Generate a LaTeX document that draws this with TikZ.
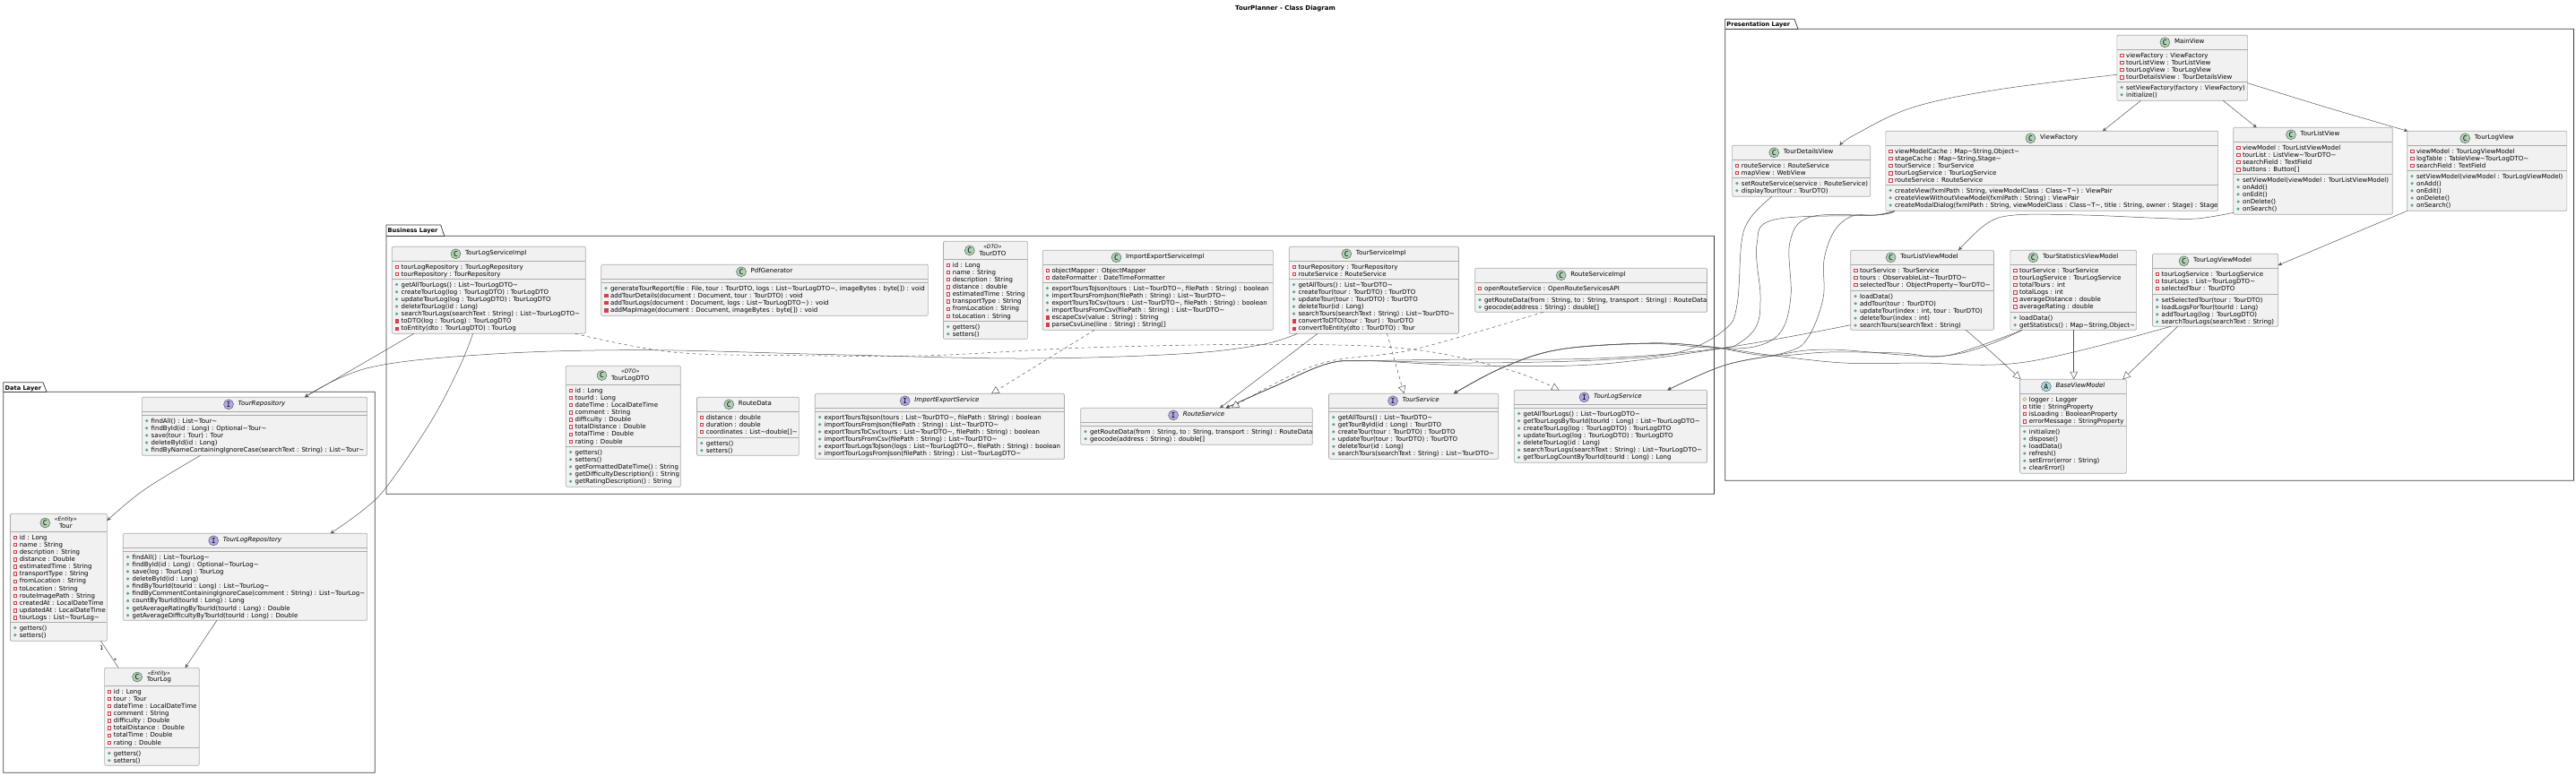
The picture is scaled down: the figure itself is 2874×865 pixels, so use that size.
\documentclass[tikz,border=0pt]{standalone}
\usepackage{fontspec}
\setmainfont{DejaVu Sans}
\newfontfamily\spotfont{DejaVu Sans Mono}
\usetikzlibrary{arrows.meta}
\AtBeginDocument{\catcode`\~=12 }
\definecolor{boxfill}{HTML}{F1F1F1}
\definecolor{boxline}{HTML}{ABABAB}
\definecolor{linkc}{HTML}{555555}
\definecolor{pkgc}{HTML}{3C3C3C}
\definecolor{privc}{HTML}{D0404E}
\definecolor{pubc}{HTML}{5CA880}
\definecolor{protc}{HTML}{B38D22}
\definecolor{spotC}{HTML}{ADD1B2}
\definecolor{spotI}{HTML}{B4A7E5}
\definecolor{spotA}{HTML}{A9DCDF}
\newcount\memN
\newcommand\memfont{\fontsize{7}{8.15}\selectfont}
\tikzset{
  umlbox/.style={draw=boxline,fill=boxfill,line width=.65pt,rounded corners=1.25pt,inner sep=0pt,outer sep=0pt,anchor=north west},
  member/.style={inner sep=0pt,outer sep=0pt,anchor=base west,font=\memfont},
  spotnode/.style={circle,draw=black!75,line width=.35pt,minimum size=11pt,inner sep=0pt,anchor=east,font=\spotfont\fontsize{8}{8}\selectfont},
  sepline/.style={draw=boxline,line width=.65pt},
  pkgline/.style={draw=pkgc,line width=.75pt,line join=round},
  pkgname/.style={inner sep=0pt,anchor=base west,font=\bfseries\fontsize{6.6}{8}\selectfont},
  conn/.style={draw=linkc,line width=.5pt,-{Stealth[length=4.5pt,width=4.2pt,inset=1.6pt]}},
  impl/.style={draw=linkc,line width=.5pt,dash pattern=on 3.5pt off 3.5pt,-{Triangle[open,length=8.5pt,width=8.5pt,fill=white,sep=0pt]}},
  ext/.style={draw=linkc,line width=.5pt,-{Triangle[open,length=8.5pt,width=8.5pt,fill=white]}},
  cardin/.style={inner sep=0pt,font=\fontsize{6.5}{7}\selectfont},
}
\newcommand\umlclass[7]{%
  \pgfmathsetmacro\bxa{#2}\pgfmathsetmacro\bya{#3}\pgfmathsetmacro\bxb{#4}\pgfmathsetmacro\byb{#5}%
  \pgfmathsetmacro\sepa{#6}\pgfmathsetmacro\sepb{#7}%
  \pgfmathsetmacro\bw{#4-#2}\pgfmathsetmacro\bh{#5-#3}%
  \def\curid{#1}%
  \node[umlbox,minimum width=\bw pt,minimum height=\bh pt] (#1) at (\bxa,\bya) {};%
  \draw[sepline] (#1.west |- 0,\sepa) -- (#1.east |- 0,\sepa);%
  \draw[sepline] (#1.west |- 0,\sepb) -- (#1.east |- 0,\sepb);%
  \pgfmathsetmacro\icx{\bxa+5.3}\pgfmathsetmacro\txx{\bxa+10.3}%
}
\newcommand\umlhead[3][]{%
  \def\stereoarg{#1}%
  \def\kindarg{#2}\def\kindC{C}%
  \ifx\kindarg\kindC\def\namef{\memfont}\else\def\namef{\memfont\itshape}\fi
  \pgfmathsetmacro\colc{(\bxa+\bxb)/2+8}\pgfmathsetmacro\cyy{(\bya+\sepa)/2}%
  \ifx\stereoarg\empty
    \node[inner sep=0pt,outer sep=0pt,font=\namef] (\curid-name) at (\colc,\cyy) {\strut #3};%
  \else
    \node[inner sep=0pt,outer sep=0pt,align=center,font=\memfont] (\curid-name) at (\colc,\cyy+.2) {{\fontsize{6}{7}\selectfont\itshape «#1»}\\[-.6pt]#3};%
  \fi
  \node[spotnode,fill=spot#2] (\curid-spot) at ([xshift=-5pt]\curid-name.west) {#2};%
}
\newcommand\rowsfrom[1]{\pgfmathsetmacro\rowc{#1+2.2+4.075}}
\newcommand\rowtext[1]{%
  \global\advance\memN by 1
  \node[member] (m\the\memN) at (\txx,\rowc+2.5) {#1};%
  \pgfmathsetmacro\rowc{\rowc+8.15}%
}
\newcommand\fpriv[1]{\draw[draw=privc,line width=.45pt] (\icx-1.7,\rowc-1.7) rectangle (\icx+1.7,\rowc+1.7);\rowtext{#1}}
\newcommand\mpriv[1]{\draw[draw=privc,fill=privc,line width=.4pt] (\icx-1.7,\rowc-1.7) rectangle (\icx+1.7,\rowc+1.7);\rowtext{#1}}
\newcommand\mpub[1]{\fill[pubc] (\icx,\rowc) circle[radius=1.75];\rowtext{#1}}
\newcommand\fprot[1]{\draw[draw=protc,line width=.45pt] (\icx-2,\rowc) -- (\icx,\rowc-2) -- (\icx+2,\rowc) -- (\icx,\rowc+2) -- cycle;\rowtext{#1}}
\newcommand\umlpackage[8]{% id x0 ytab xa xb ybody x1 y1
  \draw[pkgline] (#2,#6) -- (#2,#3) -- (#4,#3) -- (#5,#6) -- (#7,#6) -- (#7,#8) -- (#2,#8) -- cycle;
  \draw[pkgline] (#2,#6) -- (#5,#6);
}
\begin{document}
\begin{tikzpicture}[x=1pt,y=-1pt]
\useasboundingbox (0,0) rectangle (2874,865);
\node[inner sep=0pt,font=\bfseries\fontsize{7}{8}\selectfont] (title) at (1434,9.3) {TourPlanner - Class Diagram};
% packages
\umlpackage{data}{3.7}{426.7}{48}{52}{437.3}{418.3}{862.3}
\node[pkgname] (pkgData) at (5.5,435) {Data Layer};
\umlpackage{biz}{431}{251}{491.7}{495.7}{263.3}{1912.5}{551.3}
\node[pkgname] (pkgBiz) at (432.5,259.5) {Business Layer};
\umlpackage{pres}{1924.6}{21.3}{2002}{2006}{32.3}{2871.4}{536.3}
\node[pkgname] (pkgPres) at (1926.2,29.5) {Presentation Layer};

% Business layer
\umlclass{tlsi}{437.3}{275.3}{653.3}{372.3}{291.3}{311.3}\umlhead{C}{TourLogServiceImpl}
\rowsfrom{291.3}
\fpriv{tourLogRepository : TourLogRepository}
\fpriv{tourRepository : TourRepository}
\rowsfrom{311.3}
\mpub{getAllTourLogs() : List~TourLogDTO~}
\mpub{createTourLog(log : TourLogDTO) : TourLogDTO}
\mpub{updateTourLog(log : TourLogDTO) : TourLogDTO}
\mpub{deleteTourLog(id : Long)}
\mpub{searchTourLogs(searchText : String) : List~TourLogDTO~}
\mpriv{toDTO(log : TourLog) : TourLogDTO}
\mpriv{toEntity(dto : TourLogDTO) : TourLog}

\umlclass{pdf}{670.7}{295.3}{1035.4}{352.3}{311.3}{315.3}\umlhead{C}{PdfGenerator}
\rowsfrom{315.3}
\mpub{generateTourReport(file : File, tour : TourDTO, logs : List~TourLogDTO~, imageBytes : byte[]) : void}
\mpriv{addTourDetails(document : Document, tour : TourDTO) : void}
\mpriv{addTourLogs(document : Document, logs : List~TourLogDTO~) : void}
\mpriv{addMapImage(document : Document, imageBytes : byte[]) : void}

\umlclass{tdto}{1052.5}{269.3}{1146.4}{378.3}{289.3}{358.3}\umlhead[DTO]{C}{TourDTO}
\rowsfrom{289.3}
\fpriv{id : Long}
\fpriv{name : String}
\fpriv{description : String}
\fpriv{distance : double}
\fpriv{estimatedTime : String}
\fpriv{transportType : String}
\fpriv{fromLocation : String}
\fpriv{toLocation : String}
\rowsfrom{358.3}
\mpub{getters()}
\mpub{setters()}

\umlclass{iesi}{1163.2}{279.3}{1420.4}{368.3}{295.3}{315.3}\umlhead{C}{ImportExportServiceImpl}
\rowsfrom{295.3}
\fpriv{objectMapper : ObjectMapper}
\fpriv{dateFormatter : DateTimeFormatter}
\rowsfrom{315.3}
\mpub{exportToursToJson(tours : List~TourDTO~, filePath : String) : boolean}
\mpub{importToursFromJson(filePath : String) : List~TourDTO~}
\mpub{exportToursToCsv(tours : List~TourDTO~, filePath : String) : boolean}
\mpub{importToursFromCsv(filePath : String) : List~TourDTO~}
\mpriv{escapeCsv(value : String) : String}
\mpriv{parseCsvLine(line : String) : String[]}

\umlclass{tsi}{1438.2}{275.3}{1627.5}{372.3}{291.3}{311.3}\umlhead{C}{TourServiceImpl}
\rowsfrom{291.3}
\fpriv{tourRepository : TourRepository}
\fpriv{routeService : RouteService}
\rowsfrom{311.3}
\mpub{getAllTours() : List~TourDTO~}
\mpub{createTour(tour : TourDTO) : TourDTO}
\mpub{updateTour(tour : TourDTO) : TourDTO}
\mpub{deleteTour(id : Long)}
\mpub{searchTours(searchText : String) : List~TourDTO~}
\mpriv{convertToDTO(tour : Tour) : TourDTO}
\mpriv{convertToEntity(dto : TourDTO) : Tour}

\umlclass{rsi}{1645.7}{299.3}{1904.5}{348.3}{315.3}{328.3}\umlhead{C}{RouteServiceImpl}
\rowsfrom{315.3}
\fpriv{openRouteService : OpenRouteServicesAPI}
\rowsfrom{328.3}
\mpub{getRouteData(from : String, to : String, transport : String) : RouteData}
\mpub{geocode(address : String) : double[]}

\umlclass{tldto}{631.3}{408.3}{759.3}{543.3}{429.3}{498.3}\umlhead[DTO]{C}{TourLogDTO}
\rowsfrom{429.3}
\fpriv{id : Long}
\fpriv{tourId : Long}
\fpriv{dateTime : LocalDateTime}
\fpriv{comment : String}
\fpriv{difficulty : Double}
\fpriv{totalDistance : Double}
\fpriv{totalTime : Double}
\fpriv{rating : Double}
\rowsfrom{498.3}
\mpub{getters()}
\mpub{setters()}
\mpub{getFormattedDateTime() : String}
\mpub{getDifficultyDescription() : String}
\mpub{getRatingDescription() : String}

\umlclass{rdata}{777.5}{443.3}{891.4}{508.3}{459.3}{488.3}\umlhead{C}{RouteData}
\rowsfrom{459.3}
\fpriv{distance : double}
\fpriv{duration : double}
\fpriv{coordinates : List~double[]~}
\rowsfrom{488.3}
\mpub{getters()}
\mpub{setters()}

\umlclass{ies}{909.3}{439.3}{1187.5}{512.3}{455.3}{459.3}\umlhead{I}{ImportExportService}
\rowsfrom{459.3}
\mpub{exportToursToJson(tours : List~TourDTO~, filePath : String) : boolean}
\mpub{importToursFromJson(filePath : String) : List~TourDTO~}
\mpub{exportToursToCsv(tours : List~TourDTO~, filePath : String) : boolean}
\mpub{importToursFromCsv(filePath : String) : List~TourDTO~}
\mpub{exportTourLogsToJson(logs : List~TourLogDTO~, filePath : String) : boolean}
\mpub{importTourLogsFromJson(filePath : String) : List~TourLogDTO~}

\umlclass{rs}{1205.7}{455.3}{1464.3}{496.3}{471.3}{475.3}\umlhead{I}{RouteService}
\rowsfrom{475.3}
\mpub{getRouteData(from : String, to : String, transport : String) : RouteData}
\mpub{geocode(address : String) : double[]}

\umlclass{ts}{1482.5}{439.3}{1671.8}{512.3}{455.3}{459.3}\umlhead{I}{TourService}
\rowsfrom{459.3}
\mpub{getAllTours() : List~TourDTO~}
\mpub{getTourById(id : Long) : TourDTO}
\mpub{createTour(tour : TourDTO) : TourDTO}
\mpub{updateTour(tour : TourDTO) : TourDTO}
\mpub{deleteTour(id : Long)}
\mpub{searchTours(searchText : String) : List~TourDTO~}

\umlclass{tls}{1689.3}{435.3}{1904.5}{516.3}{451.3}{455.3}\umlhead{I}{TourLogService}
\rowsfrom{455.3}
\mpub{getAllTourLogs() : List~TourLogDTO~}
\mpub{getTourLogsByTourId(tourId : Long) : List~TourLogDTO~}
\mpub{createTourLog(log : TourLogDTO) : TourLogDTO}
\mpub{updateTourLog(log : TourLogDTO) : TourLogDTO}
\mpub{deleteTourLog(id : Long)}
\mpub{searchTourLogs(searchText : String) : List~TourLogDTO~}
\mpub{getTourLogCountByTourId(tourId : Long) : Long}

% Data layer
\umlclass{trepo}{158.4}{443.3}{409.6}{508.3}{459.3}{463.3}\umlhead{I}{TourRepository}
\rowsfrom{463.3}
\mpub{findAll() : List~Tour~}
\mpub{findById(id : Long) : Optional~Tour~}
\mpub{save(tour : Tour) : Tour}
\mpub{deleteById(id : Long)}
\mpub{findByNameContainingIgnoreCase(searchText : String) : List~Tour~}

\umlclass{tlrepo}{137.3}{595.3}{409.6}{692.3}{611.3}{615.3}\umlhead{I}{TourLogRepository}
\rowsfrom{615.3}
\mpub{findAll() : List~TourLog~}
\mpub{findById(id : Long) : Optional~TourLog~}
\mpub{save(log : TourLog) : TourLog}
\mpub{deleteById(id : Long)}
\mpub{findByTourId(tourId : Long) : List~TourLog~}
\mpub{findByCommentContainingIgnoreCase(comment : String) : List~TourLog~}
\mpub{countByTourId(tourId : Long) : Long}
\mpub{getAverageRatingByTourId(tourId : Long) : Double}
\mpub{getAverageDifficultyByTourId(tourId : Long) : Double}

\umlclass{tour}{11.5}{573.3}{119.4}{715.3}{593.3}{694.3}\umlhead[Entity]{C}{Tour}
\rowsfrom{593.3}
\fpriv{id : Long}
\fpriv{name : String}
\fpriv{description : String}
\fpriv{distance : Double}
\fpriv{estimatedTime : String}
\fpriv{transportType : String}
\fpriv{fromLocation : String}
\fpriv{toLocation : String}
\fpriv{routeImagePath : String}
\fpriv{createdAt : LocalDateTime}
\fpriv{updatedAt : LocalDateTime}
\fpriv{tourLogs : List~TourLog~}
\rowsfrom{694.3}
\mpub{getters()}
\mpub{setters()}

\umlclass{tlog}{116.6}{745.3}{222.2}{854.3}{765.3}{834.3}\umlhead[Entity]{C}{TourLog}
\rowsfrom{765.3}
\fpriv{id : Long}
\fpriv{tour : Tour}
\fpriv{dateTime : LocalDateTime}
\fpriv{comment : String}
\fpriv{difficulty : Double}
\fpriv{totalDistance : Double}
\fpriv{totalTime : Double}
\fpriv{rating : Double}
\rowsfrom{834.3}
\mpub{getters()}
\mpub{setters()}

% Presentation layer
\umlclass{mv}{2361.8}{39.3}{2507.6}{112.3}{55.3}{91.3}\umlhead{C}{MainView}
\rowsfrom{55.3}
\fpriv{viewFactory : ViewFactory}
\fpriv{tourListView : TourListView}
\fpriv{tourLogView : TourLogView}
\fpriv{tourDetailsView : TourDetailsView}
\rowsfrom{91.3}
\mpub{setViewFactory(factory : ViewFactory)}
\mpub{initialize()}

\umlclass{tdv}{1932.6}{162.3}{2086.7}{219.3}{178.3}{198.3}\umlhead{C}{TourDetailsView}
\rowsfrom{178.3}
\fpriv{routeService : RouteService}
\fpriv{mapView : WebView}
\rowsfrom{198.3}
\mpub{setRouteService(service : RouteService)}
\mpub{displayTour(tour : TourDTO)}

\umlclass{vf}{2103.8}{146.3}{2474.6}{235.3}{162.3}{206.3}\umlhead{C}{ViewFactory}
\rowsfrom{162.3}
\fpriv{viewModelCache : Map~String,Object~}
\fpriv{stageCache : Map~String,Stage~}
\fpriv{tourService : TourService}
\fpriv{tourLogService : TourLogService}
\fpriv{routeService : RouteService}
\rowsfrom{206.3}
\mpub{createView(fxmlPath : String, viewModelClass : Class~T~) : ViewPair}
\mpub{createViewWithoutViewModel(fxmlPath : String) : ViewPair}
\mpub{createModalDialog(fxmlPath : String, viewModelClass : Class~T~, title : String, owner : Stage) : Stage}

\umlclass{tlv}{2491.7}{142.3}{2669.2}{239.3}{158.3}{194.3}\umlhead{C}{TourListView}
\rowsfrom{158.3}
\fpriv{viewModel : TourListViewModel}
\fpriv{tourList : ListView~TourDTO~}
\fpriv{searchField : TextField}
\fpriv{buttons : Button[]}
\rowsfrom{194.3}
\mpub{setViewModel(viewModel : TourListViewModel)}
\mpub{onAdd()}
\mpub{onEdit()}
\mpub{onDelete()}
\mpub{onSearch()}

\umlclass{tlogv}{2685.7}{146.3}{2863.8}{235.3}{162.3}{190.3}\umlhead{C}{TourLogView}
\rowsfrom{162.3}
\fpriv{viewModel : TourLogViewModel}
\fpriv{logTable : TableView~TourLogDTO~}
\fpriv{searchField : TextField}
\rowsfrom{190.3}
\mpub{setViewModel(viewModel : TourLogViewModel)}
\mpub{onAdd()}
\mpub{onEdit()}
\mpub{onDelete()}
\mpub{onSearch()}

\umlclass{tlvm}{2064.7}{279.3}{2224.4}{368.3}{295.3}{324.3}\umlhead{C}{TourListViewModel}
\rowsfrom{295.3}
\fpriv{tourService : TourService}
\fpriv{tours : ObservableList~TourDTO~}
\fpriv{selectedTour : ObjectProperty~TourDTO~}
\rowsfrom{324.3}
\mpub{loadData()}
\mpub{addTour(tour : TourDTO)}
\mpub{updateTour(index : int, tour : TourDTO)}
\mpub{deleteTour(index : int)}
\mpub{searchTours(searchText : String)}

\umlclass{tsvm}{2242.8}{279.3}{2383.6}{368.3}{295.3}{348.3}\umlhead{C}{TourStatisticsViewModel}
\rowsfrom{295.3}
\fpriv{tourService : TourService}
\fpriv{tourLogService : TourLogService}
\fpriv{totalTours : int}
\fpriv{totalLogs : int}
\fpriv{averageDistance : double}
\fpriv{averageRating : double}
\rowsfrom{348.3}
\mpub{loadData()}
\mpub{getStatistics() : Map~String,Object~}

\umlclass{tlgvm}{2401.4}{283.3}{2541.7}{364.3}{299.3}{328.3}\umlhead{C}{TourLogViewModel}
\rowsfrom{299.3}
\fpriv{tourLogService : TourLogService}
\fpriv{tourLogs : List~TourLogDTO~}
\fpriv{selectedTour : TourDTO}
\rowsfrom{328.3}
\mpub{setSelectedTour(tour : TourDTO)}
\mpub{loadLogsForTour(tourId : Long)}
\mpub{addTourLog(log : TourLogDTO)}
\mpub{searchTourLogs(searchText : String)}

\umlclass{bvm}{2253.5}{423.3}{2372.3}{528.3}{439.3}{475.3}\umlhead{A}{BaseViewModel}
\rowsfrom{439.3}
\fprot{logger : Logger}
\fpriv{title : StringProperty}
\fpriv{isLoading : BooleanProperty}
\fpriv{errorMessage : StringProperty}
\rowsfrom{475.3}
\mpub{initialize()}
\mpub{dispose()}
\mpub{loadData()}
\mpub{refresh()}
\mpub{setError(error : String)}
\mpub{clearError()}

% Connectors: presentation layer
\draw[conn] plot[smooth,tension=.6] coordinates {([yshift=-44pt]mv.north west) (2228.7,100) (2133.6,120) (2070,150) ([xshift=119.8pt]tdv.north west)};
\draw[conn] ([xshift=26.6pt]mv.south west) -- ([xshift=242.1pt]vf.north west);
\draw[conn] ([xshift=118.5pt]mv.south west) -- ([xshift=26pt]tlv.north west);
\draw[conn] plot[smooth,tension=.6] coordinates {([yshift=-53.4pt]mv.north east) (2596.3,120) ([xshift=.6pt]tlogv.north west)};
\draw[conn] plot[smooth,tension=.6] coordinates {([yshift=2pt]tlv.south west) (2450.5,244) (2406,243.3) (2323.7,240) (2247.7,240) (2216,250) ([xshift=120.3pt]tlvm.north west)};
\draw[conn] (tlogv.south west) -- ([yshift=-12.7pt]tlgvm.north east);
\draw[ext] plot[smooth,tension=.6] coordinates {([xshift=128.6pt]tlvm.south west) (2225,396) ([xshift=1pt]bvm.north west)};
\draw[ext] ([xshift=70.9pt]tsvm.south west) -- ([xshift=60.2pt]bvm.north west);
\draw[ext] ([xshift=28.1pt]tlgvm.south west) -- ([xshift=114.8pt]bvm.north west);

% Connectors towards the services
\draw[conn] plot[smooth,tension=.6] coordinates {([xshift=44.1pt]tdv.south west) (1953,243) (1943,270) (1938,340) (1924,368) (1873,393) (1780,402) (1640,405) (1527,402.7) (1480.7,406) (1420,432) ([xshift=161.8pt]rs.north west)};
\draw[conn] plot[smooth,tension=.6] coordinates {([xshift=10pt]vf.south west) (2093,240) (1980,245) (1960,273) (1964,330) (1960,363) (1940,383) (1913,390) (1780,406.7) (1640,408) (1527,402.7) (1480.7,406) (1420,432) ([xshift=161.8pt]rs.north west)};
\draw[conn] plot[smooth,tension=.6] coordinates {([xshift=10pt]vf.south west) (2093,240) (2020,242) (1997,270) (1998,330) (1987,370) (1957,387) (1907,388) (1840,383.5) (1740,390) (1677,410) ([xshift=139.3pt]ts.north west)};
\draw[conn] plot[smooth,tension=.6] coordinates {([xshift=10pt]vf.south west) (2093,240) (2067,241) (2047,257) (2035,290) (2034,333) (2017,377) (1993,393) (1923,408) ([xshift=171pt]tls.north west)};
\draw[conn] plot[smooth,tension=.6] coordinates {([yshift=5.6pt]tlvm.south west) (1917,389) (1780,400) (1640,401) (1527,402.7) (1480.7,406) (1420,432) ([xshift=161.8pt]rs.north west)};
\draw[conn] plot[smooth,tension=.6] coordinates {([xshift=13.2pt]tsvm.south west) (2173,396.7) (2040,390) (1980,396.7) (1923,408) ([xshift=171pt]tls.north west)};
\draw[conn] plot[smooth,tension=.6] coordinates {([xshift=13.2pt]tsvm.south west) (2173,396.7) (2120,394) (2040,393) (1973,397) (1907,387) (1840,383) (1740,390) (1677,410) ([xshift=139.3pt]ts.north west)};
\draw[conn] plot[smooth,tension=.6] coordinates {([xshift=20.4pt]tlgvm.south west) (2260,404) (2140,405) (2057,405) (1973,396) (1907,386.7) (1840,383) (1740,390) (1673,411.7) ([xshift=139.3pt]ts.north west)};
\draw[conn] ([xshift=31.8pt]tsi.south west) -- ([xshift=155.3pt]rs.north west);
\draw[impl] ([xshift=109.3pt]tsi.south west) -- ([xshift=83.9pt]ts.north west);
\draw[impl] plot[smooth,tension=.6] coordinates {([xshift=76.1pt]rsi.south west) (1577,390) (1470,406.7) ([xshift=168pt]rs.north west)};
\draw[impl] ([xshift=57.8pt]iesi.south west) -- ([xshift=196.7pt]ies.north west);
\draw[impl] plot[smooth,tension=.6] coordinates {([xshift=204.4pt]tlsi.south west) (751,393) (894,396.7) (1037,396.7) (1220,387.7) (1434,384.3) (1577,390) (1684,413) ([xshift=50.3pt]tls.north west)};

% Connectors towards the data layer
\draw[conn] ([xshift=24.4pt]tlsi.south west) .. controls (430,391) and (380,420) .. ([xshift=181.4pt]trepo.north west);
\draw[conn] plot[smooth,tension=.6] coordinates {([xshift=9.3pt]tsi.south west) (1405.7,385) (1316,395) (1144,400) (930,395.7) (720,390.7) (551,395) (413,410) ([xshift=181.4pt]trepo.north west)};
\draw[conn] plot[smooth,tension=.6] coordinates {([xshift=90.4pt]tlsi.south west) (511.7,411.7) (480,471.7) (431.6,543) (404,570) ([xshift=231.4pt]tlrepo.north west)};
\draw[conn] plot[smooth,tension=.6] coordinates {([xshift=65.2pt]trepo.south west) (160.7,546.7) ([yshift=-7.7pt]tour.north east)};
\draw[conn] ([xshift=104.7pt]tlrepo.south west) -- ([xshift=90pt]tlog.north west);
\draw[draw=linkc,line width=.5pt] ([xshift=101pt]tour.south west) -- ([xshift=15.6pt]tlog.north west);
\node[cardin] (card1) at (113.4,723.3) {1};
\node[cardin] (cardN) at (128.6,737) {*};
\end{tikzpicture}
\end{document}
